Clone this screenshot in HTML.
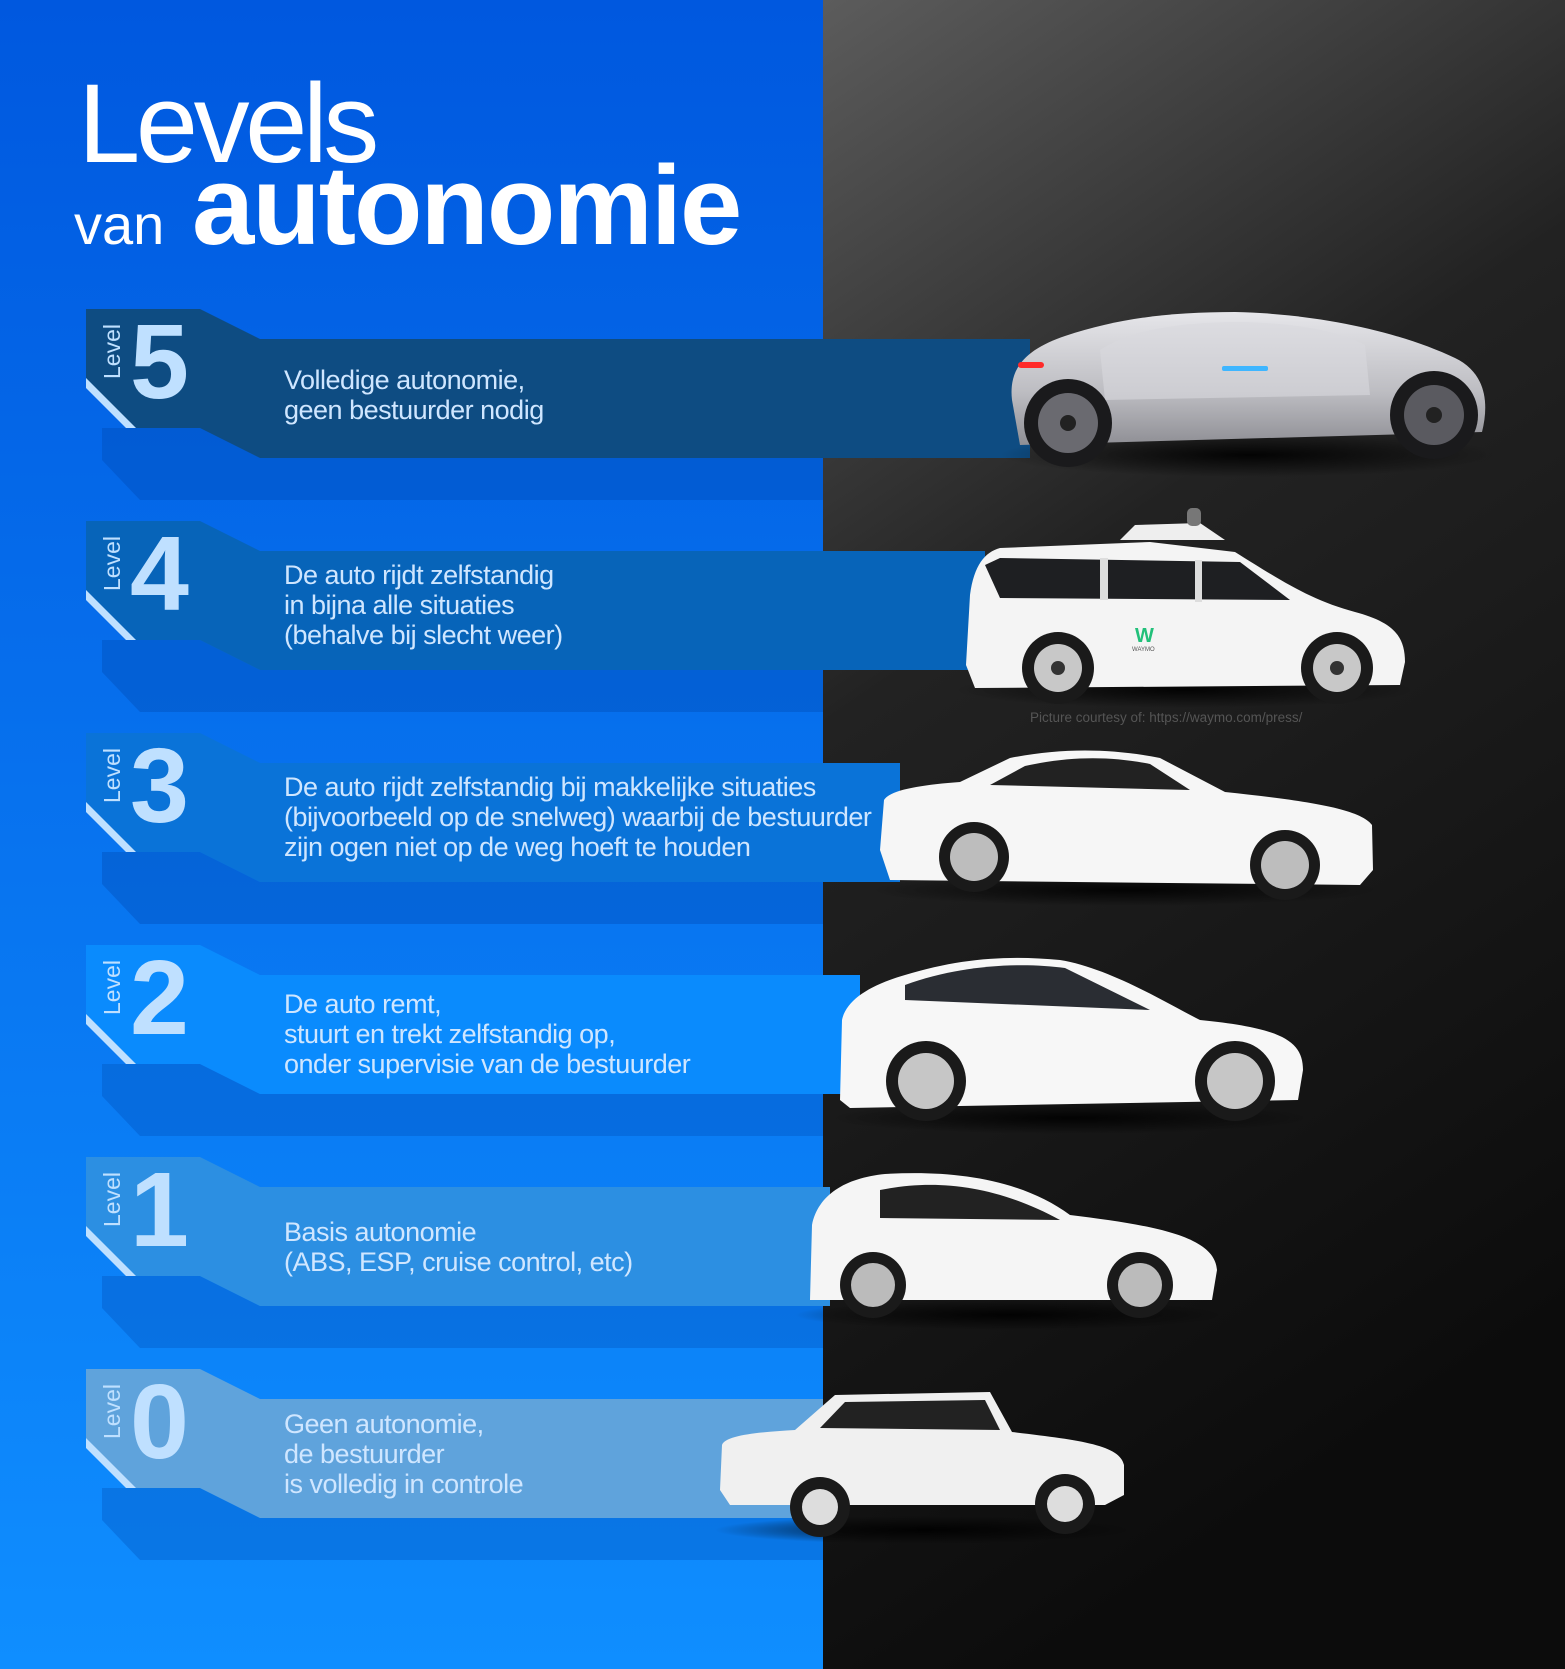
<!DOCTYPE html>
<html><head><meta charset="utf-8"><style>
html,body{margin:0;padding:0;background:#000}
svg{display:block}
.t{font-family:"Liberation Sans",sans-serif;font-size:27px;fill:#cfe6ff;letter-spacing:-0.5px}
.dg{font-family:"Liberation Sans",sans-serif;font-weight:bold;font-size:106px;fill:#bfe0ff}
.lv{font-family:"Liberation Sans",sans-serif;font-size:23px;fill:#bfe0ff}
</style></head><body>
<svg width="1565" height="1669" viewBox="0 0 1565 1669" xmlns="http://www.w3.org/2000/svg">
<defs>
<linearGradient id="lb" x1="0" y1="0" x2="0" y2="1"><stop offset="0" stop-color="#0058df"/><stop offset="1" stop-color="#0f8eff"/></linearGradient>
<linearGradient id="db" x1="0" y1="0" x2="0.3" y2="1"><stop offset="0" stop-color="#5c5c5c"/><stop offset="0.4" stop-color="#222"/><stop offset="1" stop-color="#0c0c0c"/></linearGradient>
<linearGradient id="sil" x1="0" y1="0" x2="0" y2="1"><stop offset="0" stop-color="#e6e6ea"/><stop offset="0.6" stop-color="#bdbdc2"/><stop offset="1" stop-color="#8f8f95"/></linearGradient>
<radialGradient id="sh"><stop offset="0" stop-color="#000" stop-opacity="0.9"/><stop offset="1" stop-color="#000" stop-opacity="0"/></radialGradient>
</defs>
<rect x="0" y="0" width="823" height="1669" fill="url(#lb)"/>
<rect x="823" y="0" width="742" height="1669" fill="url(#db)"/>

<text x="78" y="162" font-family="Liberation Sans,sans-serif" font-size="112" fill="#fff" letter-spacing="-4.5">Levels</text>
<text x="74" y="244" font-family="Liberation Sans,sans-serif" font-size="56" fill="#fff">van</text>
<text x="192" y="244" font-family="Liberation Sans,sans-serif" font-size="112" font-weight="bold" fill="#fff" letter-spacing="-2">autonomie</text>

<g id="levels">
<g transform="translate(0,0)">
<polygon points="102,428 200,428 260,458 823,458 823,500 140,500 102,460" fill="#0048b0" opacity="0.35"/>
<polygon points="86,309 200,309 260,339 1030,339 1030,458 260,458 200,428 135,428 86,378" fill="#0e4c82"/>
<polygon points="86,378 86,388 126,428 136,428" fill="#bfe0ff"/>
<text class="dg" x="130" y="398">5</text>
<text class="lv" transform="translate(120,379) rotate(-90)">Level</text>
<text class="t" x="284" y="389">Volledige autonomie,</text>
<text class="t" x="284" y="419">geen bestuurder nodig</text>
</g>
<g transform="translate(0,212)">
<polygon points="102,428 200,428 260,458 823,458 823,500 140,500 102,460" fill="#0048b0" opacity="0.35"/>
<polygon points="86,309 200,309 260,339 985,339 985,458 260,458 200,428 135,428 86,378" fill="#0764b9"/>
<polygon points="86,378 86,388 126,428 136,428" fill="#bfe0ff"/>
<text class="dg" x="130" y="398">4</text>
<text class="lv" transform="translate(120,379) rotate(-90)">Level</text>
<text class="t" x="284" y="372">De auto rijdt zelfstandig</text>
<text class="t" x="284" y="402">in bijna alle situaties</text>
<text class="t" x="284" y="432">(behalve bij slecht weer)</text>
</g>
<g transform="translate(0,424)">
<polygon points="102,428 200,428 260,458 823,458 823,500 140,500 102,460" fill="#0048b0" opacity="0.35"/>
<polygon points="86,309 200,309 260,339 900,339 900,458 260,458 200,428 135,428 86,378" fill="#0a73d8"/>
<polygon points="86,378 86,388 126,428 136,428" fill="#bfe0ff"/>
<text class="dg" x="130" y="398">3</text>
<text class="lv" transform="translate(120,379) rotate(-90)">Level</text>
<text class="t" x="284" y="372">De auto rijdt zelfstandig bij makkelijke situaties</text>
<text class="t" x="284" y="402">(bijvoorbeeld op de snelweg) waarbij de bestuurder</text>
<text class="t" x="284" y="432">zijn ogen niet op de weg hoeft te houden</text>
</g>
<g transform="translate(0,636)">
<polygon points="102,428 200,428 260,458 823,458 823,500 140,500 102,460" fill="#0048b0" opacity="0.3"/>
<polygon points="86,309 200,309 260,339 860,339 860,458 260,458 200,428 135,428 86,378" fill="#0a8bfd"/>
<polygon points="86,378 86,388 126,428 136,428" fill="#bfe0ff"/>
<text class="dg" x="130" y="398">2</text>
<text class="lv" transform="translate(120,379) rotate(-90)">Level</text>
<text class="t" x="284" y="377">De auto remt,</text>
<text class="t" x="284" y="407">stuurt en trekt zelfstandig op,</text>
<text class="t" x="284" y="437">onder supervisie van de bestuurder</text>
</g>
<g transform="translate(0,848)">
<polygon points="102,428 200,428 260,458 823,458 823,500 140,500 102,460" fill="#0048b0" opacity="0.3"/>
<polygon points="86,309 200,309 260,339 830,339 830,458 260,458 200,428 135,428 86,378" fill="#2c8fe2"/>
<polygon points="86,378 86,388 126,428 136,428" fill="#bfe0ff"/>
<text class="dg" x="130" y="398">1</text>
<text class="lv" transform="translate(120,379) rotate(-90)">Level</text>
<text class="t" x="284" y="393">Basis autonomie</text>
<text class="t" x="284" y="423">(ABS, ESP, cruise control, etc)</text>
</g>
<g transform="translate(0,1060)">
<polygon points="102,428 200,428 260,458 823,458 823,500 140,500 102,460" fill="#0048b0" opacity="0.3"/>
<polygon points="86,309 200,309 260,339 823,339 823,458 260,458 200,428 135,428 86,378" fill="#5fa3dc"/>
<polygon points="86,378 86,388 126,428 136,428" fill="#bfe0ff"/>
<text class="dg" x="130" y="398">0</text>
<text class="lv" transform="translate(120,379) rotate(-90)">Level</text>
<text class="t" x="284" y="373" fill="#dcefff">Geen autonomie,</text>
<text class="t" x="284" y="403">de bestuurder</text>
<text class="t" x="284" y="433">is volledig in controle</text>
</g>
</g>

<ellipse cx="1250" cy="455" rx="250" ry="22" fill="url(#sh)"/>
<path d="M1012,400 C1008,365 1030,348 1065,336 C1120,318 1170,312 1235,312 C1320,314 1400,332 1455,358 C1484,372 1490,400 1482,432 L1020,445 Z" fill="url(#sil)"/>
<path d="M1100,350 C1130,330 1180,322 1240,322 C1300,323 1340,332 1365,345 L1370,395 L1105,400 Z" fill="#d9d9de" opacity="0.6"/>
<rect x="1018" y="362" width="26" height="6" rx="3" fill="#ff2a2a"/>
<rect x="1222" y="366" width="46" height="5" rx="2" fill="#3fb6ff"/>
<circle cx="1068" cy="423" r="44" fill="#1a1a1c"/><circle cx="1068" cy="423" r="30" fill="#6a6a70"/><circle cx="1068" cy="423" r="8" fill="#222"/>
<circle cx="1434" cy="415" r="44" fill="#1a1a1c"/><circle cx="1434" cy="415" r="30" fill="#5a5a60"/><circle cx="1434" cy="415" r="8" fill="#222"/>

<ellipse cx="1185" cy="690" rx="230" ry="18" fill="url(#sh)"/>
<path d="M966,665 L970,595 C974,565 985,552 1000,548 L1150,542 L1235,552 C1280,580 1310,600 1355,612 C1392,622 1405,635 1405,662 L1400,685 L975,688 Z" fill="#f4f4f4"/>
<path d="M1120,540 L1135,525 L1200,523 L1225,540 Z" fill="#eee"/>
<rect x="1187" y="508" width="14" height="18" rx="5" fill="#777"/>
<path d="M985,565 L1000,558 L1240,562 L1290,600 L1000,598 Z" fill="#1e1f22"/>
<rect x="1100" y="558" width="8" height="42" fill="#ddd"/><rect x="1195" y="560" width="7" height="42" fill="#ddd"/>
<text x="1135" y="642" font-family="Liberation Sans,sans-serif" font-size="20" font-weight="bold" fill="#22c07a">W</text>
<text x="1132" y="651" font-family="Liberation Sans,sans-serif" font-size="6" fill="#555">WAYMO</text>
<circle cx="1058" cy="668" r="36" fill="#1a1a1a"/><circle cx="1058" cy="668" r="24" fill="#c8c8c8"/><circle cx="1058" cy="668" r="7" fill="#333"/>
<circle cx="1337" cy="668" r="36" fill="#1a1a1a"/><circle cx="1337" cy="668" r="24" fill="#c8c8c8"/><circle cx="1337" cy="668" r="7" fill="#333"/>
<text x="1030" y="722" font-family="Liberation Sans,sans-serif" font-size="13.5" fill="#555">Picture courtesy of: https://waymo.com/press/</text>

<ellipse cx="1125" cy="890" rx="255" ry="16" fill="url(#sh)"/>
<path d="M880,850 L884,800 C890,790 920,785 960,782 L1010,758 C1060,748 1110,748 1160,758 L1225,792 C1300,800 1360,808 1372,825 L1373,870 L1360,885 L890,880 Z" fill="#f6f6f6"/>
<path d="M990,785 L1025,766 C1070,756 1110,756 1150,764 L1190,790 Z" fill="#222"/>
<circle cx="974" cy="857" r="35" fill="#1a1a1a"/><circle cx="974" cy="857" r="24" fill="#bdbdbd"/>
<circle cx="1285" cy="865" r="35" fill="#1a1a1a"/><circle cx="1285" cy="865" r="24" fill="#bdbdbd"/>

<ellipse cx="1070" cy="1118" rx="240" ry="16" fill="url(#sh)"/>
<path d="M840,1100 L842,1020 C846,1000 870,985 905,975 C960,958 1010,955 1060,960 C1110,968 1170,1005 1200,1020 C1280,1028 1303,1040 1303,1070 L1298,1100 L850,1108 Z" fill="#f7f7f7"/>
<path d="M905,985 C960,965 1020,962 1065,968 L1150,1010 L905,1000 Z" fill="#2a2d33"/>
<circle cx="926" cy="1081" r="40" fill="#1a1a1a"/><circle cx="926" cy="1081" r="28" fill="#c6c6c6"/>
<circle cx="1235" cy="1081" r="40" fill="#1a1a1a"/><circle cx="1235" cy="1081" r="28" fill="#c6c6c6"/>

<ellipse cx="1010" cy="1315" rx="215" ry="15" fill="url(#sh)"/>
<path d="M810,1300 L812,1225 C818,1195 845,1178 885,1174 C950,1170 1020,1178 1070,1215 C1150,1225 1215,1235 1217,1270 L1212,1300 Z" fill="#f5f5f5"/>
<path d="M880,1190 C930,1180 990,1182 1060,1220 L880,1218 Z" fill="#222"/>
<circle cx="873" cy="1285" r="33" fill="#1a1a1a"/><circle cx="873" cy="1285" r="22" fill="#bbb"/>
<circle cx="1140" cy="1285" r="33" fill="#1a1a1a"/><circle cx="1140" cy="1285" r="22" fill="#bbb"/>

<ellipse cx="925" cy="1530" rx="210" ry="14" fill="url(#sh)"/>
<path d="M720,1490 L722,1445 C725,1435 760,1432 795,1430 L835,1395 L990,1392 L1012,1432 C1080,1440 1120,1445 1124,1465 L1124,1495 L1105,1505 L730,1505 Z" fill="#f0f0f0"/>
<path d="M820,1428 L845,1402 L985,1400 L1000,1430 Z" fill="#222"/>
<circle cx="820" cy="1507" r="30" fill="#1a1a1a"/><circle cx="820" cy="1507" r="18" fill="#ddd"/>
<circle cx="1065" cy="1504" r="30" fill="#1a1a1a"/><circle cx="1065" cy="1504" r="18" fill="#ddd"/>
</svg>
</body></html>
